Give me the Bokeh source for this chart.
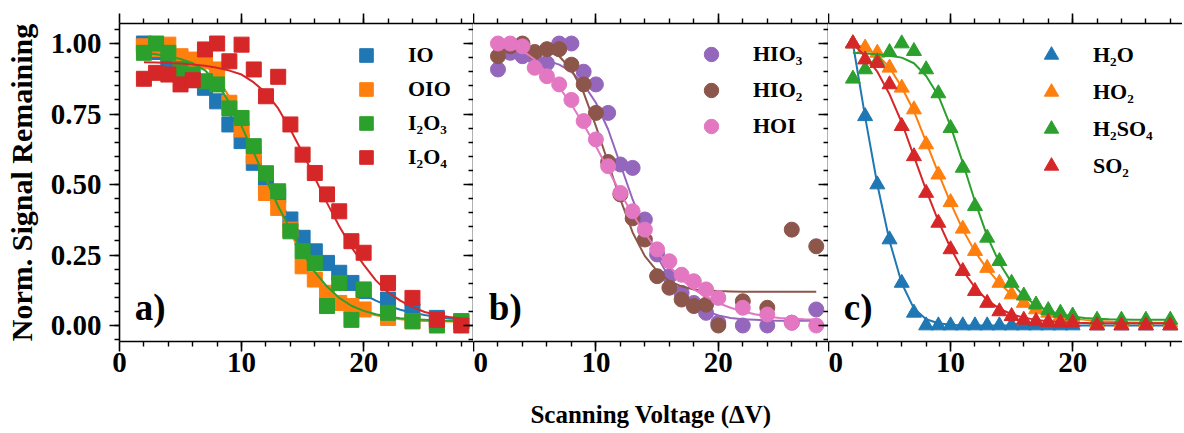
from bokeh.plotting import figure
from bokeh.layouts import row
from bokeh.models import (Range1d, LinearAxis, FixedTicker, NumeralTickFormatter,
                          CustomJSTickFormatter, Legend, LegendItem, Label)
from bokeh.embed import file_html
from bokeh.resources import INLINE

# ---------------- data ----------------
voltage = [2, 3, 4, 5, 6, 7, 8, 9, 10, 11, 12, 13, 14, 15, 16, 17, 18, 19, 20, 22, 24, 26, 28]
fit_voltage = list(range(2, 29))

# panel a
io = [1.00, 0.97, 0.93, 0.91, 0.87, 0.843, 0.795, 0.713, 0.654, 0.577, 0.50, 0.46, 0.376, 0.311,
      0.263, 0.222, 0.187, 0.151, 0.122, 0.092, 0.051, 0.027, 0.015]
oio = [0.99, 0.98, 0.996, 0.955, 0.943, 0.937, 0.908, 0.79, 0.695, 0.60, 0.47, 0.417, 0.34, 0.21,
       0.163, 0.116, 0.08, 0.069, 0.057, 0.027, 0.015, 0.01, 0.015]
i2o3 = [0.967, 1.0, 0.967, 0.91, 0.89, 0.866, 0.855, 0.77, 0.736, 0.636, 0.54, 0.476, 0.334, 0.264,
        0.222, 0.069, 0.151, 0.02, 0.128, 0.045, 0.015, 0.0, 0.015]
i2o4 = [0.875, 0.896, 0.89, 0.855, 0.87, 0.979, 1.0, 0.937, 0.996, 0.908, 0.813, 0.882, 0.713, 0.606,
        0.541, 0.465, 0.405, 0.299, 0.258, 0.151, 0.098, 0.02, 0.0]
io_fit = [0.99, 0.965, 0.94, 0.91, 0.88, 0.845, 0.80, 0.75, 0.68, 0.61, 0.52, 0.45, 0.376, 0.317,
          0.264, 0.216, 0.175, 0.14, 0.11, 0.088, 0.07, 0.056, 0.045, 0.037, 0.03, 0.025, 0.021]
oio_fit = [0.996, 0.99, 0.98, 0.965, 0.95, 0.925, 0.88, 0.81, 0.72, 0.62, 0.52, 0.42, 0.33, 0.245,
           0.178, 0.128, 0.09, 0.065, 0.048, 0.036, 0.028, 0.022, 0.018, 0.016, 0.015, 0.014, 0.013]
i2o3_fit = [0.967, 0.962, 0.955, 0.945, 0.93, 0.905, 0.86, 0.79, 0.707, 0.612, 0.518, 0.423, 0.34,
            0.258, 0.19, 0.138, 0.098, 0.07, 0.052, 0.04, 0.031, 0.026, 0.022, 0.02, 0.018, 0.017, 0.016]
i2o4_fit = [0.934, 0.933, 0.931, 0.929, 0.926, 0.921, 0.914, 0.904, 0.89, 0.862, 0.825, 0.77, 0.695,
            0.612, 0.524, 0.435, 0.352, 0.278, 0.216, 0.16, 0.118, 0.088, 0.065, 0.048, 0.037, 0.03, 0.025]

# panel b
hio3 = [0.908, 0.967, 0.955, 0.95, 0.93, 1.0, 1.0, 0.90, 0.855, 0.754, 0.571, 0.559, 0.376, 0.252,
        0.175, 0.116, 0.08, 0.045, 0.01, 0.0, 0.0, 0.01, 0.057]
hio2 = [0.955, 0.99, 1.0, 0.97, 0.98, 0.98, 0.925, 0.855, 0.754, 0.58, 0.465, 0.38, 0.305, 0.175,
        0.134, 0.092, 0.069, 0.074, 0.0, 0.086, 0.063, 0.34, 0.281]
hoi = [1.0, 1.0, 0.99, 0.914, 0.884, 0.855, 0.80, 0.725, 0.66, 0.565, 0.47, 0.405, 0.34, 0.27,
       0.228, 0.18, 0.157, 0.128, 0.098, 0.063, 0.039, 0.01, 0.0]
hio3_fit = [0.967, 0.965, 0.96, 0.952, 0.94, 0.925, 0.90, 0.855, 0.79, 0.695, 0.571, 0.447, 0.34,
            0.246, 0.169, 0.116, 0.076, 0.052, 0.036, 0.027, 0.022, 0.02, 0.018, 0.017, 0.017, 0.017, 0.017]
hio2_fit = [0.98, 0.98, 0.979, 0.977, 0.973, 0.955, 0.908, 0.825, 0.707, 0.577, 0.447, 0.33, 0.246,
            0.193, 0.157, 0.139, 0.128, 0.124, 0.122, 0.121, 0.12, 0.12, 0.12, 0.12, 0.12, 0.12, 0.12]
hoi_fit = [0.996, 0.99, 0.975, 0.943, 0.896, 0.845, 0.784, 0.713, 0.636, 0.553, 0.47, 0.394, 0.329,
           0.264, 0.21, 0.163, 0.128, 0.102, 0.08, 0.063, 0.05, 0.04, 0.032, 0.027, 0.024, 0.022, 0.021]

# panel c
h2o = [1.0, 0.742, 0.5, 0.305, 0.151, 0.045, 0.0, 0.0, 0.0, 0.0, 0.0, 0.0, 0.0, 0.0,
       0.0, 0.0, 0.0, 0.0, 0.0, 0.0, 0.0, 0.0, 0.0]
ho2 = [1.0, 0.985, 0.967, 0.914, 0.843, 0.766, 0.642, 0.535, 0.437, 0.343, 0.264, 0.204, 0.151, 0.11,
       0.08, 0.057, 0.045, 0.033, 0.025, 0.01, 0.01, 0.01, 0.01]
h2so4 = [0.875, 0.908, 0.937, 0.969, 1.0, 0.973, 0.908, 0.823, 0.70, 0.559, 0.423, 0.311, 0.228, 0.151,
         0.106, 0.074, 0.054, 0.045, 0.035, 0.02, 0.02, 0.02, 0.02]
so2 = [1.0, 0.943, 0.93, 0.855, 0.707, 0.60, 0.47, 0.364, 0.27, 0.193, 0.122, 0.08, 0.05, 0.033,
       0.02, 0.015, 0.012, 0.01, 0.01, 0.0, 0.0, 0.0, 0.0]
h2o_fit = [1.0, 0.74, 0.5, 0.3, 0.15, 0.06, 0.022, 0.008, 0.003, 0.0, 0.0, 0.0, 0.0, 0.0, 0.0, 0.0,
           0.0, 0.0, 0.0, 0.0, 0.0, 0.0, 0.0, 0.0, 0.0, 0.0, 0.0]
ho2_fit = [1.0, 0.985, 0.96, 0.915, 0.845, 0.76, 0.65, 0.54, 0.435, 0.34, 0.262, 0.2, 0.15, 0.11,
           0.08, 0.058, 0.043, 0.032, 0.025, 0.02, 0.016, 0.014, 0.012, 0.011, 0.01, 0.01, 0.01]
h2so4_fit = [0.967, 0.965, 0.962, 0.957, 0.95, 0.93, 0.885, 0.815, 0.707, 0.577, 0.44, 0.317, 0.222,
             0.152, 0.104, 0.072, 0.052, 0.04, 0.032, 0.027, 0.024, 0.022, 0.021, 0.02, 0.02, 0.02, 0.02]
so2_fit = [1.0, 0.955, 0.9, 0.82, 0.72, 0.60, 0.48, 0.37, 0.275, 0.195, 0.135, 0.09, 0.06, 0.04,
           0.028, 0.02, 0.015, 0.012, 0.01, 0.009, 0.008, 0.008, 0.008, 0.008, 0.008, 0.008, 0.008]

x_ticks = [0, 10, 20]
y_ticks = [0.0, 0.25, 0.5, 0.75, 1.0]
panel_labels = ["a)", "b)", "c)"]
x_title = "Scanning Voltage (ΔV)"
y_title = "Norm. Signal Remaining"

# ---------------- style ----------------
FONT = "Liberation Serif"
C = {"blue": "#1f77b4", "orange": "#ff7f0e", "green": "#2ca02c", "red": "#d62728",
     "purple": "#9467bd", "brown": "#8c564b", "pink": "#e377c2"}
XR = (0, 29)
YR = (-0.0567, 1.0710)
FH = 318
TICK_FS = "29px"
X_MINOR = list(range(2, 29, 2))
Y_MINOR = [round(-0.05 + 0.05 * i, 2) for i in range(23)]
BLANK = CustomJSTickFormatter(code="return ''")


def axis_common(ax):
    ax.axis_line_width = 1.6
    ax.axis_line_color = "black"
    ax.major_tick_line_width = 1.6
    ax.minor_tick_line_width = 1.4
    ax.major_tick_line_color = "black"
    ax.minor_tick_line_color = "black"
    ax.major_label_text_font = FONT
    ax.major_label_text_font_style = "bold"
    ax.major_label_text_font_size = TICK_FS
    ax.major_label_text_color = "black"
    ax.axis_label_text_color = "black"


def tick_only(ax):
    ax.formatter = BLANK
    ax.major_label_text_font_size = "1px"
    ax.major_label_standoff = 0


def make_panel(fw, left_border, show_left, right_ticks, xlabel):
    p = figure(x_range=Range1d(*XR), y_range=Range1d(*YR), frame_width=fw, frame_height=FH,
               min_border_left=left_border, min_border_right=0, min_border_top=23,
               min_border_bottom=86, toolbar_location=None, output_backend="svg",
               y_axis_location="left" if show_left else None,
               outline_line_color=None, background_fill_color="white")
    p.xgrid.visible = False
    p.ygrid.visible = False
    xt = FixedTicker(ticks=x_ticks, minor_ticks=X_MINOR)
    yt = FixedTicker(ticks=y_ticks, minor_ticks=Y_MINOR)
    # bottom axis
    bx = p.xaxis[0]
    bx.ticker = xt
    axis_common(bx)
    bx.major_tick_in = 0
    bx.major_tick_out = 10
    bx.minor_tick_in = 0
    bx.minor_tick_out = 5
    bx.major_label_standoff = 1
    if xlabel:
        bx.axis_label = xlabel
        bx.axis_label_text_font = FONT
        bx.axis_label_text_font_style = "bold"
        bx.axis_label_text_font_size = "25px"
        bx.axis_label_standoff = 26
    # left axis
    if show_left:
        ly = p.yaxis[0]
        ly.ticker = yt
        axis_common(ly)
        ly.formatter = NumeralTickFormatter(format="0.00")
        ly.major_tick_in = 0
        ly.major_tick_out = 10
        ly.minor_tick_in = 0
        ly.minor_tick_out = 5
        ly.major_label_standoff = 8
        ly.axis_label = y_title
        ly.axis_label_text_font = FONT
        ly.axis_label_text_font_style = "bold"
        ly.axis_label_text_font_size = "30px"
        ly.axis_label_standoff = 10
    # top axis (ticks only)
    ta = LinearAxis(ticker=xt)
    axis_common(ta)
    tick_only(ta)
    ta.major_tick_in = 0
    ta.major_tick_out = 10
    ta.minor_tick_in = 0
    ta.minor_tick_out = 5
    p.add_layout(ta, "above")
    if right_ticks:
        ra = LinearAxis(ticker=yt)
        axis_common(ra)
        tick_only(ra)
        ra.major_tick_in = 10
        ra.major_tick_out = 0
        ra.minor_tick_in = 5
        ra.minor_tick_out = 0
        p.add_layout(ra, "right")
    return p


def add_series(p, marker, series, fits, names, colors):
    items = []
    for ys, fy, name, col in zip(series, fits, names, colors):
        r = p.scatter(voltage, ys, marker=marker, size=15, fill_color=col, line_color=col)
        p.line(fit_voltage, fy, line_color=col, line_width=2)
        items.append(LegendItem(label=name, renderers=[r]))
    return items


def add_legend(p, items, x, y, gh):
    lg = Legend(items=items, location=(x, y), glyph_width=36, glyph_height=gh,
                label_standoff=24, spacing=0, padding=0, margin=0,
                border_line_color=None, background_fill_alpha=0,
                label_text_font=FONT, label_text_font_style="bold",
                label_text_font_size="22px", label_text_color="black")
    p.add_layout(lg)


def add_panel_label(p, text):
    p.add_layout(Label(x=1.25, y=0.065, text=text, text_font=FONT, text_font_style="bold",
                       text_font_size="37px", text_baseline="alphabetic", text_color="black"))


pa = make_panel(354, 119, True, True, None)
items = add_series(pa, "square", [io, oio, i2o3, i2o4], [io_fit, oio_fit, i2o3_fit, i2o4_fit],
                   ["IO", "OIO", "I₂O₃", "I₂O₄"], [C["blue"], C["orange"], C["green"], C["red"]])
add_legend(pa, items, 229, 167, 34)
add_panel_label(pa, panel_labels[0])

pb = make_panel(355, 0, False, True, x_title)
items = add_series(pb, "circle", [hio3, hio2, hoi], [hio3_fit, hio2_fit, hoi_fit],
                   ["HIO₃", "HIO₂", "HOI"], [C["purple"], C["brown"], C["pink"]])
add_legend(pb, items, 220, 197, 36)
add_panel_label(pb, panel_labels[1])

pc = make_panel(354, 0, False, False, None)
items = add_series(pc, "triangle", [h2o, ho2, h2so4, so2], [h2o_fit, ho2_fit, h2so4_fit, so2_fit],
                   ["H₂O", "HO₂", "H₂SO₄", "SO₂"], [C["blue"], C["orange"], C["green"], C["red"]])
add_legend(pc, items, 205, 157, 37)
add_panel_label(pc, panel_labels[2])

layout = row(pa, pb, pc, spacing=0)
open("out.html", "w").write(file_html(layout, INLINE))
